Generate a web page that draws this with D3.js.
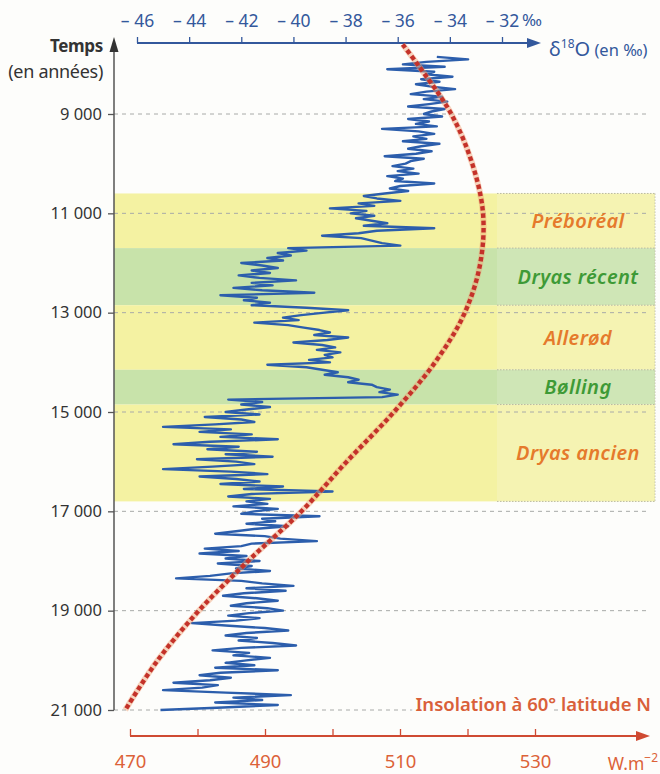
<!DOCTYPE html>
<html>
<head>
<meta charset="utf-8">
<title>δ18O et insolation</title>
<script src="https://cdn.jsdelivr.net/npm/d3@7"></script>
<style>
  body { margin: 0; background: #fdfdfb; }
  svg { display: block; font-family: "Noto Sans", "DejaVu Sans", sans-serif; }
</style>
</head>
<body>
<script>

// graduations
var ageTicks = [9000, 11000, 13000, 15000, 17000, 19000, 21000];
var d18oTicks = [-46, -44, -42, -40, -38, -36, -34, -32];
var insoTicks = [470, 480, 490, 500, 510, 520, 530];
var insoLabels = [470, 490, 510, 530];

// periodes climatiques (annees)
var periods = ["Préboréal", "Dryas récent", "Allerød", "Bølling", "Dryas ancien"];
var periodFrom = [10600, 11700, 12850, 14150, 14850];
var periodTo = [11700, 12850, 14150, 14850, 16800];
var periodKind = ["jaune", "vert", "jaune", "vert", "jaune"];

// insolation a 60° N (W.m-2)
var insoAges = [7600, 8000, 9000, 10000, 11000, 12000, 13000, 14000, 15000, 16000, 17000, 18000, 19000, 20000, 21000];
var insoValues = [510.4, 512.6, 517.6, 520.7, 522.3, 521.9, 519.6, 515.2, 509.1, 502.1, 495.4, 487.5, 480.2, 474.1, 469.3];

// d18O (en pour mille), un point tous les 50 ans a partir de 7850
var d18oStart = 7850, d18oStep = 50;
var d18oValues = [
  // 7850 - 8950
  -34.5,-33.3,-34.9,-35.8,-34.2,-36.4,-34.6,-34.9,-33.9,-35.1,-34.4,-35.3,-34.7,-33.8,-34.9,-35.5,-34.3,-35.0,-34.1,-34.8,-35.6,-34.2,-34.7,
  // 9000 - 9950
  -35.0,-34.3,-35.6,-34.8,-35.3,-34.5,-36.6,-35.2,-34.6,-35.4,-34.9,-35.8,-34.4,-35.1,-35.6,-34.7,-35.3,-36.5,-35.0,-35.5,
  // 10000 - 10550
  -35.7,-36.2,-35.4,-36.0,-35.2,-36.4,-35.8,-36.1,-34.6,-35.9,-36.3,-35.6,
  // 10600 - 11650
  -36.5,-37.3,-36.8,-35.9,-37.5,-36.9,-38.6,-37.2,-37.8,-36.9,-37.6,-37.0,-36.4,-37.3,-34.6,-36.8,-37.5,-38.9,-37.4,-37.0,-36.6,-35.9,
  // 11700 - 12850
  -40.2,-39.5,-40.6,-40.1,-41.0,-40.4,-42.0,-41.2,-40.6,-41.6,-40.9,-42.1,-41.3,-39.9,-41.6,-40.8,-42.3,-41.2,-39.2,-42.8,-41.4,-41.9,-40.9,-41.6,
  // 12900 - 14150
  -39.5,-37.9,-38.8,-39.7,-40.4,-39.8,-41.5,-40.2,-39.6,-39.0,-38.6,-39.2,-37.9,-38.7,-40.0,-38.9,-38.4,-39.1,-38.2,-38.8,-38.5,-39.4,-38.6,-41.0,-39.5,-38.9,
  // 14200 - 14750
  -38.3,-38.8,-37.9,-37.5,-37.9,-37.0,-36.8,-36.3,-36.7,-36.0,-36.6,-42.5,
  // 14800 - 16800
  -41.2,-42.0,-40.9,-41.8,-42.6,-41.3,-43.4,-42.0,-41.5,-43.0,-45.0,-42.4,-43.6,-41.6,-42.8,-40.6,-43.2,-44.6,-42.1,-43.3,
  -41.4,-42.6,-40.8,-43.7,-42.2,-41.5,-43.1,-45.0,-42.4,-41.0,-43.6,-42.2,-41.3,-42.8,-40.4,-41.9,-38.5,-41.6,-42.5,-40.9,-41.8,
  // 16850 - 21000
  -41.0,-42.3,-40.6,-41.5,
  -42.0,-39.0,-41.2,-40.7,-41.8,-40.2,-41.4,-42.2,-43.0,-41.1,
  -40.5,-39.1,-41.6,-42.0,-43.4,-42.1,-43.6,-41.8,-42.6,-41.3,
  -42.9,-41.6,-42.2,-40.9,-42.4,-43.2,-44.5,-42.0,-41.2,-40.0,
  -41.8,-40.3,-41.9,-42.7,-41.4,-40.6,-41.8,-42.4,-41.0,-40.4,
  -41.7,-42.5,-41.3,-42.2,-43.9,-42.6,-41.1,-40.2,-41.8,-42.6,
  -41.4,-42.1,-40.8,-39.9,-42.0,-43.1,-41.7,-42.3,-40.9,-41.8,
  -42.6,-41.5,-43.0,-40.6,-42.8,-43.6,-42.4,-43.2,-44.6,-42.9,
  -43.5,-45.0,-42.6,-40.1,-42.3,-41.2,-43.0,-40.6,-42.7,-45.1
];

var W = 660, H = 774;
var plotLeft = 114, plotRight = 655, colLeft = 497;

var svg = d3.select("body").append("svg")
  .attr("width", W).attr("height", H);

svg.append("rect").attr("width", W).attr("height", H).attr("fill", "#fdfdfb");

// ECHELLES
var y = d3.scaleLinear().domain([9000, 21000]).range([114, 710]);
var xTop = d3.scaleLinear().domain([-46, -32]).range([137, 502]);
var xBot = d3.scaleLinear().domain([470, 530]).range([130, 535]);

var bandFill = { jaune: "#f4f2a2", vert: "#c8e3aa" };
var bandFillCol = { jaune: "#f5f3b2", vert: "#cfe6b6" };
var labelColor = { jaune: "#e57a2c", vert: "#3e9a36" };

// BANDES
var bands = svg.append("g");
periods.forEach(function(p, i) {
  bands.append("rect")
    .attr("x", plotLeft).attr("width", colLeft - plotLeft)
    .attr("y", y(periodFrom[i])).attr("height", y(periodTo[i]) - y(periodFrom[i]))
    .attr("fill", bandFill[periodKind[i]]);
  bands.append("rect")
    .attr("x", colLeft).attr("width", plotRight - colLeft)
    .attr("y", y(periodFrom[i])).attr("height", y(periodTo[i]) - y(periodFrom[i]))
    .attr("fill", bandFillCol[periodKind[i]]);
});
// separations pointillees de la colonne des noms
periodFrom.concat([periodTo[periodTo.length - 1]]).forEach(function(a) {
  bands.append("line")
    .attr("x1", colLeft).attr("x2", plotRight)
    .attr("y1", y(a)).attr("y2", y(a))
    .attr("stroke", "#b9b9a0").attr("stroke-width", 1).attr("stroke-dasharray", "1.5,1.5");
});
bands.append("line")
  .attr("x1", plotRight).attr("x2", plotRight)
  .attr("y1", y(periodFrom[0])).attr("y2", y(periodTo[periodTo.length - 1]))
  .attr("stroke", "#c4c4b0").attr("stroke-dasharray", "1.5,1.5");

// LIGNES DE GRILLE
svg.append("g").selectAll("line")
  .data(ageTicks)
  .enter().append("line")
  .attr("x1", plotLeft).attr("x2", plotRight - 5)
  .attr("y1", function(d) { return y(d); }).attr("y2", function(d) { return y(d); })
  .attr("stroke", "#a8aaa8").attr("stroke-width", 1).attr("stroke-dasharray", "4,4");

// AXE DU TEMPS (gauche)
var leftAxis = svg.append("g")
  .attr("transform", "translate(" + plotLeft + ",0)")
  .call(d3.axisLeft(y).tickValues(ageTicks).tickSize(6).tickPadding(6)
    .tickFormat(function(d) { return d3.format(",")(d).replace(",", " "); }));
leftAxis.select(".domain").remove();
leftAxis.selectAll("line").attr("stroke", "#555").attr("stroke-width", 1.3);
leftAxis.selectAll("text").attr("fill", "#333").attr("font-size", 16.5).style("font-family", "Noto Sans");
svg.append("line")
  .attr("x1", plotLeft).attr("x2", plotLeft).attr("y1", y(21000)).attr("y2", 50)
  .attr("stroke", "#555").attr("stroke-width", 1.5);
svg.append("path")
  .attr("d", "M" + plotLeft + ",37 L" + (plotLeft + 4.5) + ",52 L" + (plotLeft - 4.5) + ",52 Z")
  .attr("fill", "#333");
svg.append("text").attr("x", 103).attr("y", 52).attr("text-anchor", "end")
  .attr("font-size", 17).attr("font-weight", "bold").attr("fill", "#333")
  .attr("letter-spacing", -0.3).text("Temps");
svg.append("text").attr("x", 103).attr("y", 78).attr("text-anchor", "end")
  .attr("font-size", 18).attr("fill", "#333").attr("letter-spacing", -0.3).text("(en années)");

// AXE d18O (haut)
var blue = "#33589c";
var topAxis = svg.append("g")
  .attr("transform", "translate(0,43)")
  .call(d3.axisTop(xTop).tickValues(d18oTicks).tickSizeInner(6).tickSizeOuter(0).tickPadding(10)
    .tickFormat(function(d) { return "\u2013 " + Math.abs(d); }));
topAxis.select(".domain").remove();
topAxis.selectAll("line").attr("stroke", blue).attr("stroke-width", 1.3);
topAxis.selectAll("text").attr("fill", blue).attr("font-size", 17.5).style("font-family", "Noto Sans");
svg.append("line").attr("x1", xTop(-46)).attr("x2", 530).attr("y1", 43).attr("y2", 43)
  .attr("stroke", blue).attr("stroke-width", 2);
svg.append("path").attr("d", "M541,43 L527,38 L527,48 Z").attr("fill", blue);
svg.append("text").attr("x", xTop(-32) + 20).attr("y", 26)
  .attr("font-size", 17).attr("fill", blue).text("‰");
var dLabel = svg.append("text").attr("x", 549).attr("y", 56).attr("fill", blue).attr("font-size", 20);
dLabel.append("tspan").text("δ");
dLabel.append("tspan").attr("font-size", 12).attr("dy", -8).text("18");
dLabel.append("tspan").attr("dy", 8).text("O");
dLabel.append("tspan").attr("font-size", 16.5).text(" (en ‰)");

// AXE INSOLATION (bas)
var red = "#cf4a32";
var botAxis = svg.append("g")
  .attr("transform", "translate(0,736)")
  .call(d3.axisBottom(xBot).tickValues(insoTicks).tickSizeInner(-7).tickSizeOuter(0).tickPadding(19)
    .tickFormat(function(d) { return insoLabels.indexOf(d) >= 0 ? d : ""; }));
botAxis.select(".domain").remove();
botAxis.selectAll("line").attr("stroke", red).attr("stroke-width", 1.3);
botAxis.selectAll("text").attr("fill", "#dc6238").attr("font-size", 18.5).style("font-family", "Noto Sans");
svg.append("line").attr("x1", xBot(470)).attr("x2", 638).attr("y1", 736).attr("y2", 736)
  .attr("stroke", red).attr("stroke-width", 2);
svg.append("path").attr("d", "M650,736 L636,731 L636,741 Z").attr("fill", red);
var wLabel = svg.append("text").attr("x", 658).attr("y", 770).attr("text-anchor", "end")
  .attr("fill", "#dc6238").attr("font-size", 17.5);
wLabel.append("tspan").text("W.m");
wLabel.append("tspan").attr("font-size", 12).attr("dy", -8).text("\u22122");

// COURBE d18O
var d18o = d18oValues.map(function(v, i) { return { age: d18oStart + i * d18oStep, v: v }; });
svg.append("path")
  .datum(d18o)
  .attr("fill", "none").attr("stroke", "#2c5eac").attr("stroke-width", 2.4)
  .attr("stroke-linejoin", "round")
  .attr("d", d3.line()
    .x(function(d) { return xTop(d.v); })
    .y(function(d) { return y(d.age); }));

// COURBE INSOLATION
var inso = insoAges.map(function(a, i) { return { age: a, v: insoValues[i] }; });
var insoLine = d3.line()
  .curve(d3.curveCatmullRom)
  .x(function(d) { return xBot(d.v); })
  .y(function(d) { return y(d.age); });
svg.append("path").datum(inso)
  .attr("fill", "none").attr("stroke", "#f0a070").attr("stroke-width", 6).attr("opacity", 0.45)
  .attr("d", insoLine);
svg.append("path").datum(inso)
  .attr("fill", "none").attr("stroke", "#c4322a").attr("stroke-width", 4.4)
  .attr("stroke-dasharray", "4.5,2.8")
  .attr("d", insoLine);

// NOMS DES PERIODES
periods.forEach(function(p, i) {
  svg.append("text")
    .attr("x", (colLeft + plotRight) / 2 + 2)
    .attr("y", (y(periodFrom[i]) + y(periodTo[i])) / 2 + 7)
    .attr("text-anchor", "middle")
    .attr("font-size", 20).attr("font-style", "italic").attr("font-weight", 600)
    .attr("letter-spacing", 0.4)
    .attr("fill", labelColor[periodKind[i]])
    .text(p);
});

svg.append("text").attr("x", 651).attr("y", 711).attr("text-anchor", "end")
  .attr("font-size", 18.5).attr("font-weight", 600).attr("fill", "#d9603a")
  .attr("stroke", "#fdfdfb").attr("stroke-width", 8).attr("paint-order", "stroke")
  .text("Insolation à 60° latitude N");

</script>
</body>
</html>
